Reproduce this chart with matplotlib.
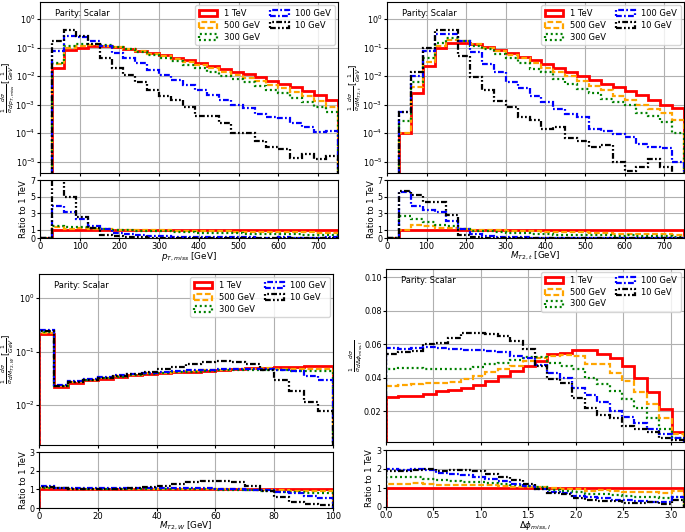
import numpy as np
import matplotlib
matplotlib.use("Agg")
import matplotlib.pyplot as plt
import matplotlib.transforms as mtransforms

plt.rcParams['font.family'] = ['DejaVu Sans']
plt.rcParams['font.size'] = 6
plt.rcParams['xtick.labelsize'] = 6.1
plt.rcParams['ytick.labelsize'] = 5.8
plt.rcParams['xtick.major.size'] = 2
plt.rcParams['ytick.major.size'] = 2
plt.rcParams['xtick.major.pad'] = 0.8
plt.rcParams['ytick.major.pad'] = 1.2

labels = ["1 TeV", "500 GeV", "300 GeV", "100 GeV", "10 GeV"]
colors = ["red", "orange", "green", "blue", "black"]
styles = ["-", (0, (2.6, 1.2)), (0, (0.9, 1.3)), (0, (2.6, 1.0, 0.8, 1.0)),
          (0, (2.6, 1.0, 0.8, 1.0, 0.8, 1.0))]
widths = [2.0, 1.6, 1.6, 1.6, 1.6]

# ---------- p_T,miss ----------
pt_edges = np.arange(0, 751, 30)
pt_1tev = [0, 0.020, 0.082, 0.100, 0.110, 0.112, 0.105, 0.092, 0.078, 0.066, 0.054, 0.045, 0.036,
           0.029, 0.023, 0.018, 0.0145, 0.0115, 0.0090, 0.0070, 0.0055, 0.0040, 0.0030, 0.0021, 0.0015]
pt_500 = [0, 0.026, 0.094, 0.115, 0.121, 0.118, 0.105, 0.089, 0.074, 0.061, 0.049, 0.040, 0.031,
          0.024, 0.019, 0.0144, 0.0113, 0.0087, 0.0067, 0.0050, 0.0039, 0.0027, 0.0020, 0.0013, 0.00083]
pt_300 = [0, 0.030, 0.111, 0.130, 0.132, 0.123, 0.105, 0.087, 0.070, 0.056, 0.043, 0.034, 0.025,
          0.019, 0.0143, 0.0104, 0.0080, 0.0060, 0.0045, 0.0033, 0.0025, 0.0017, 0.0012, 0.0008, 0.00054]
pt_100 = [0, 0.077, 0.260, 0.230, 0.165, 0.115, 0.066, 0.043, 0.029, 0.017, 0.011, 0.0073, 0.0049,
          0.0034, 0.0022, 0.0015, 0.00095, 0.00075, 0.00048, 0.00038, 0.00035, 0.00023, 0.00016, 0.00011, 0.00012]
pt_10 = [0, 0.165, 0.41, 0.25, 0.13, 0.045, 0.020, 0.011, 0.0060, 0.0034, 0.0020, 0.0014, 0.0008,
         0.00041, 0.00040, 0.00023, 0.00010, 0.00010, 5.5e-5, 3.2e-5, 2.8e-5, 1.3e-5, 1.9e-5, 1.2e-5, 1.6e-5]

# ---------- M_T2,t ----------
mt_edges = np.arange(0, 751, 30)
mt_1tev = [0, 0.0001, 0.0026, 0.023, 0.094, 0.150, 0.150, 0.130, 0.107, 0.084, 0.064, 0.048, 0.036,
           0.026, 0.020, 0.0145, 0.0100, 0.0075, 0.0053, 0.0040, 0.0029, 0.0021, 0.0014, 0.0010, 0.00077]
mt_500 = [0, 0.0001, 0.0042, 0.032, 0.116, 0.180, 0.170, 0.130, 0.100, 0.078, 0.056, 0.042, 0.030,
          0.020, 0.014, 0.010, 0.0069, 0.0046, 0.0032, 0.0020, 0.0014, 0.0010, 0.0007, 0.00053, 0.00029]
mt_300 = [0, 0.00027, 0.006, 0.045, 0.150, 0.210, 0.170, 0.116, 0.089, 0.062, 0.042, 0.028, 0.0177,
          0.0135, 0.0079, 0.0053, 0.0035, 0.0025, 0.0016, 0.0012, 0.00095, 0.00053, 0.00040, 0.00024, 0.00010]
mt_100 = [0, 0.00056, 0.010, 0.077, 0.30, 0.31, 0.17, 0.068, 0.026, 0.0135, 0.0064, 0.0038, 0.0020,
          0.0012, 0.0007, 0.00047, 0.00037, 0.00014, 0.00012, 9.5e-5, 7.2e-5, 4.2e-5, 3.2e-5, 3.0e-5, 9.4e-6]
mt_10 = [0, 0.00057, 0.0135, 0.100, 0.41, 0.41, 0.052, 0.009, 0.0032, 0.0013, 0.0008, 0.00037, 0.00030,
         0.00014, 0.00016, 7.0e-5, 5.5e-5, 3.4e-5, 3.8e-5, 9.5e-6, 4.6e-6, 6.5e-6, 1.2e-5, 6.5e-6, 3.0e-6]

# ---------- M_T2,W ----------
mw_edges = np.arange(0, 101, 5)
mw_1tev = [0.21, 0.022, 0.026, 0.029, 0.031, 0.034, 0.036, 0.038, 0.039, 0.041, 0.042, 0.044, 0.046,
           0.047, 0.049, 0.050, 0.051, 0.052, 0.053, 0.053]
mw_500 = [0.225, 0.023, 0.027, 0.030, 0.032, 0.035, 0.037, 0.039, 0.040, 0.042, 0.043, 0.045, 0.046,
          0.047, 0.048, 0.049, 0.048, 0.047, 0.047, 0.047]
mw_300 = [0.23, 0.023, 0.027, 0.030, 0.032, 0.034, 0.036, 0.038, 0.040, 0.041, 0.042, 0.044, 0.045,
          0.046, 0.046, 0.046, 0.045, 0.044, 0.043, 0.043]
mw_100 = [0.25, 0.024, 0.028, 0.031, 0.033, 0.036, 0.038, 0.040, 0.042, 0.043, 0.045, 0.046, 0.047,
          0.048, 0.048, 0.047, 0.045, 0.043, 0.035, 0.029]
mw_10 = [0.24, 0.023, 0.027, 0.030, 0.032, 0.035, 0.038, 0.042, 0.047, 0.052, 0.059, 0.063, 0.067,
         0.065, 0.058, 0.045, 0.029, 0.018, 0.0115, 0.0077]

# ---------- Delta phi ----------
dp_edges = np.linspace(0, np.pi, 25)
dp_1tev = [0.0285, 0.029, 0.029, 0.030, 0.032, 0.0325, 0.034, 0.0355, 0.038, 0.041, 0.044, 0.047,
           0.050, 0.054, 0.055, 0.0565, 0.0565, 0.054, 0.052, 0.047, 0.040, 0.0315, 0.021, 0.0075]
dp_500 = [0.0352, 0.0355, 0.036, 0.0365, 0.037, 0.0375, 0.039, 0.041, 0.0435, 0.045, 0.047, 0.050,
          0.052, 0.053, 0.0535, 0.053, 0.048, 0.048, 0.043, 0.038, 0.0315, 0.0245, 0.016, 0.0062]
dp_300 = [0.045, 0.046, 0.0455, 0.045, 0.045, 0.045, 0.045, 0.0465, 0.048, 0.049, 0.0505, 0.0525,
          0.0525, 0.049, 0.047, 0.045, 0.040, 0.036, 0.032, 0.027, 0.022, 0.016, 0.0095, 0.004]
dp_100 = [0.0576, 0.057, 0.0575, 0.0585, 0.058, 0.057, 0.0568, 0.0565, 0.056, 0.0555, 0.053, 0.052,
          0.0476, 0.0426, 0.040, 0.034, 0.0296, 0.0256, 0.020, 0.0166, 0.0126, 0.009, 0.006, 0.004]
dp_10 = [0.054, 0.0556, 0.056, 0.060, 0.061, 0.064, 0.0665, 0.0665, 0.066, 0.065, 0.062, 0.057,
         0.047, 0.039, 0.0366, 0.0276, 0.022, 0.0176, 0.016, 0.011, 0.009, 0.0076, 0.0036, 0.0026]

W, H = 685, 532
fig = plt.figure(figsize=(W / 100, H / 100), dpi=100)


def rect(l, t, r, b):
    return [l / W, 1 - b / H, (r - l) / W, (b - t) / H]


def panel(main_r, ratio_r, edges, series, log, ylim, ylabel, xlabel, xlim, xticks,
          rlim, rticks, ylab_x, rlab_x, yticks=None):
    ax = fig.add_axes(rect(*main_r))
    ax_r = fig.add_axes(rect(*ratio_r))
    if log:
        ax.set_yscale('log')
    centers = 0.5 * (edges[:-1] + edges[1:])
    ref = np.array(series[0], dtype=float)
    for vals, lab, c, ls, lw in zip(series, labels, colors, styles, widths):
        v = np.array(vals, dtype=float)
        ax.hist(centers, bins=edges, weights=v, histtype='step', color=c, ls=ls,
                lw=lw, label=lab)
        ratio = np.divide(v, ref, out=np.zeros_like(v), where=ref > 0)
        ax_r.hist(centers, bins=edges, weights=ratio, histtype='step', color=c, ls=ls, lw=lw)
    ax.set_ylim(*ylim)
    ax.set_xlim(*xlim)
    ax.set_xticks(xticks)
    ax.tick_params(labelbottom=False)
    if yticks is not None:
        ax.set_yticks(yticks)
    ax.minorticks_off()
    ax.grid(True, color='#b0b0b0', lw=0.8)
    ax.set_ylabel(ylabel, fontsize=6.2, va='center')
    ax.yaxis.set_label_coords(ylab_x / W, 0.5,
                              transform=mtransforms.blended_transform_factory(fig.transFigure, ax.transAxes))
    ax.text(0.05, 0.935, "Parity: Scalar", transform=ax.transAxes, fontsize=6, va='center')
    ax.legend(loc='upper right', ncol=2, fontsize=6, labelspacing=0.35, columnspacing=1.3,
              handlelength=2.2, borderaxespad=0.4)
    ax_r.set_xlim(*xlim)
    ax_r.set_xticks(xticks)
    ax_r.set_ylim(*rlim)
    ax_r.set_yticks(rticks)
    ax_r.grid(True, color='#b0b0b0', lw=0.8)
    ax_r.set_ylabel("Ratio to 1 TeV", fontsize=6, va='center')
    ax_r.yaxis.set_label_coords(rlab_x / W, 0.5,
                                transform=mtransforms.blended_transform_factory(fig.transFigure, ax_r.transAxes))
    ax_r.set_xlabel(xlabel, fontsize=6.3, labelpad=-0.5)
    return ax, ax_r


panel((40, 2, 338, 173), (40, 180, 338, 238), pt_edges,
      [pt_1tev, pt_500, pt_300, pt_100, pt_10], True, (4e-6, 4),
      r'$\frac{1}{\sigma}\frac{d\sigma}{dp_{T,miss}}\,[\frac{1}{GeV}]$',
      r'$p_{T,miss}$ [GeV]', (0, 750), np.arange(0, 701, 100), (0, 7), [0, 1, 3, 5, 7],
      8, 24)

panel((387, 2, 684, 173), (387, 180, 684, 238), mt_edges,
      [mt_1tev, mt_500, mt_300, mt_100, mt_10], True, (4e-6, 4),
      r'$\frac{1}{\sigma}\frac{d\sigma}{dM_{T2,t}}\,[\frac{1}{GeV}]$',
      r'$M_{T2,t}$ [GeV]', (0, 750), np.arange(0, 701, 100), (0, 7), [0, 1, 3, 5, 7],
      355, 371)

panel((39, 274, 333, 445), (39, 452, 333, 508), mw_edges,
      [mw_1tev, mw_500, mw_300, mw_100, mw_10], True, (1.8e-3, 2.8),
      r'$\frac{1}{\sigma}\frac{d\sigma}{dM_{T2,W}}\,[\frac{1}{GeV}]$',
      r'$M_{T2,W}$ [GeV]', (0, 100), np.arange(0, 101, 20), (0, 3), [0, 1, 2, 3],
      8, 23)

panel((386, 269, 684, 442), (386, 450, 684, 507), dp_edges,
      [dp_1tev, dp_500, dp_300, dp_100, dp_10], False, (0.0015, 0.105),
      r'$\frac{1}{\sigma}\frac{d\sigma}{d\Delta\phi_{miss,l}}$',
      r'$\Delta\phi_{miss,l}$', (0, np.pi), np.arange(0, 3.01, 0.5), (0, 3), [0, 1, 2, 3],
      356, 370, yticks=[0.02, 0.04, 0.06, 0.08, 0.10])

fig.savefig("out.png", dpi=100)
